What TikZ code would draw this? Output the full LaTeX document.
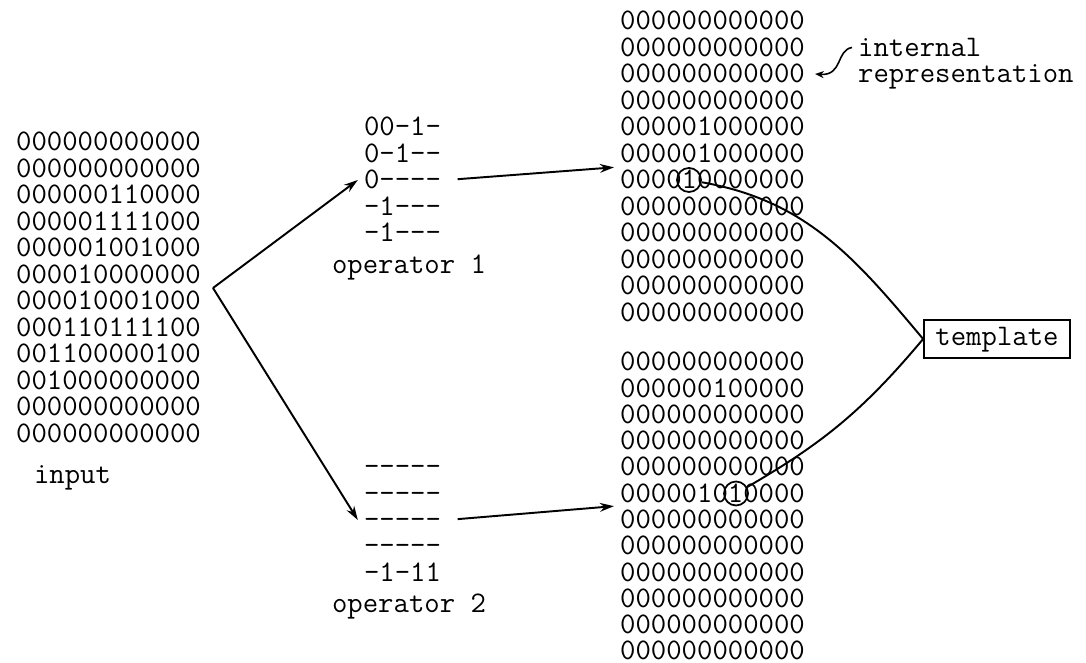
\documentclass[tikz,border=0pt]{standalone}
\usepackage{tikz}
\usetikzlibrary{positioning}
\usetikzlibrary{arrows.meta}
\tikzstyle{row} = [font=\fontsize{17}{17}\selectfont\ttfamily, text height=10pt, text depth=0pt, inner ysep=2pt]
\tikzstyle{ring} = [circle, draw, line width=1pt, minimum size=0.48cm, inner sep=0pt]
\tikzstyle{tbox} = [draw, line width=1pt, font=\fontsize{17}{17}\selectfont\ttfamily, minimum width=2.92cm, minimum height=0.76cm, text height=10pt, text depth=3pt]
\tikzstyle{arrow} = [line width=1.1pt,-{Stealth[length=8pt,width=5pt]}]
\tikzstyle{link} = [line width=1.1pt]

\begin{document}
\begin{tikzpicture}
      \useasboundingbox (0,0) rectangle (21.72,13.26);
      %%%%%%%%%%%%%%%%%%%%%%%%%%%%%%%%%%%%%%% input
      \node[row] (in1) at (2.17,10.42) {000000000000};
      \node[row] (in2) at (2.17,9.89) {000000000000};
      \node[row] (in3) at (2.17,9.36) {000000110000};
      \node[row] (in4) at (2.17,8.83) {000001111000};
      \node[row] (in5) at (2.17,8.30) {000001001000};
      \node[row] (in6) at (2.17,7.77) {000010000000};
      \node[row] (in7) at (2.17,7.24) {000010001000};
      \node[row] (in8) at (2.17,6.71) {000110111100};
      \node[row] (in9) at (2.17,6.18) {001100000100};
      \node[row] (in10) at (2.17,5.65) {001000000000};
      \node[row] (in11) at (2.17,5.12) {000000000000};
      \node[row] (in12) at (2.17,4.59) {000000000000};
      \node[row] (inlbl) at (1.45,3.76) {input};
      \coordinate (vin) at (4.26,7.50);
      %%%%%%%%%%%%%%%%%%%%%%%%%%%%%%%%%%%%%%% operators
      \node[row] (oa1) at (8.05,10.72) {00-1-};
      \node[row] (oa2) at (8.05,10.19) {0-1-{}-};
      \node[row] (oa3) at (8.05,9.66) {0-{}-{}-{}-};
      \node[row] (oa4) at (8.05,9.13) {-1-{}-{}-};
      \node[row] (oa5) at (8.05,8.60) {-1-{}-{}-};
      \node[row] (oalbl) at (8.18,7.96) {operator 1};
      \node[row] (ob1) at (8.05,3.92) {-{}-{}-{}-{}-};
      \node[row] (ob2) at (8.05,3.39) {-{}-{}-{}-{}-};
      \node[row] (ob3) at (8.05,2.86) {-{}-{}-{}-{}-};
      \node[row] (ob4) at (8.05,2.34) {-{}-{}-{}-{}-};
      \node[row] (ob5) at (8.05,1.81) {-1-11};
      \node[row] (oblbl) at (8.18,1.19) {operator 2};
      %%%%%%%%%%%%%%%%%%%%%%%%%%%%%%%%%%%%%%% internal representations
      \node[row] (ta1) at (14.25,12.84) {000000000000};
      \node[row] (ta2) at (14.25,12.31) {000000000000};
      \node[row] (ta3) at (14.25,11.78) {000000000000};
      \node[row] (ta4) at (14.25,11.25) {000000000000};
      \node[row] (ta5) at (14.25,10.72) {000001000000};
      \node[row] (ta6) at (14.25,10.19) {000001000000};
      \node[row] (ta7) at (14.25,9.66) {000010000000};
      \node[row] (ta8) at (14.25,9.13) {000000000000};
      \node[row] (ta9) at (14.25,8.60) {000000000000};
      \node[row] (ta10) at (14.25,8.07) {000000000000};
      \node[row] (ta11) at (14.25,7.54) {000000000000};
      \node[row] (ta12) at (14.25,7.01) {000000000000};
      \node[row] (tb1) at (14.25,6.02) {000000000000};
      \node[row] (tb2) at (14.25,5.49) {000000100000};
      \node[row] (tb3) at (14.25,4.97) {000000000000};
      \node[row] (tb4) at (14.25,4.44) {000000000000};
      \node[row] (tb5) at (14.25,3.92) {000000000000};
      \node[row] (tb6) at (14.25,3.39) {000001010000};
      \node[row] (tb7) at (14.25,2.86) {000000000000};
      \node[row] (tb8) at (14.25,2.34) {000000000000};
      \node[row] (tb9) at (14.25,1.81) {000000000000};
      \node[row] (tb10) at (14.25,1.29) {000000000000};
      \node[row] (tb11) at (14.25,0.76) {000000000000};
      \node[row] (tb12) at (14.25,0.24) {000000000000};
      \node[ring] (c1) at (13.78,9.66) {};
      \node[ring] (c2) at (14.72,3.39) {};
      \node[row, anchor=west] (irep1) at (17.04,12.31) {internal};
      \node[row, anchor=west] (irep2) at (17.04,11.78) {representation};
      \coordinate (rtip) at (16.30,11.78);
      \node[tbox] (tmpl) at (19.94,6.48) {template};
      %%%%%%%%%%%%%%%%%%%%%%%%%%%%%%%%%%%%%%% arrows
      \draw[arrow] (vin) -- (oa3.west);
      \draw[arrow] (vin) -- (ob3.west);
      \draw[arrow, shorten <=6pt] (oa3.east) -- (ta7.north west);
      \draw[arrow, shorten <=6pt] (ob3.east) -- (tb6.south west);
      \draw[line width=0.9pt, -{Stealth[length=5pt,width=4pt]}] (irep1.west) .. controls (16.72,12.26) and (16.86,11.74) .. (rtip);
      \draw[link] (c1) to[out=-10,in=130] (tmpl.west);
      \draw[link] (c2) to[out=30,in=-130] (tmpl.west);
\end{tikzpicture}
\end{document}
